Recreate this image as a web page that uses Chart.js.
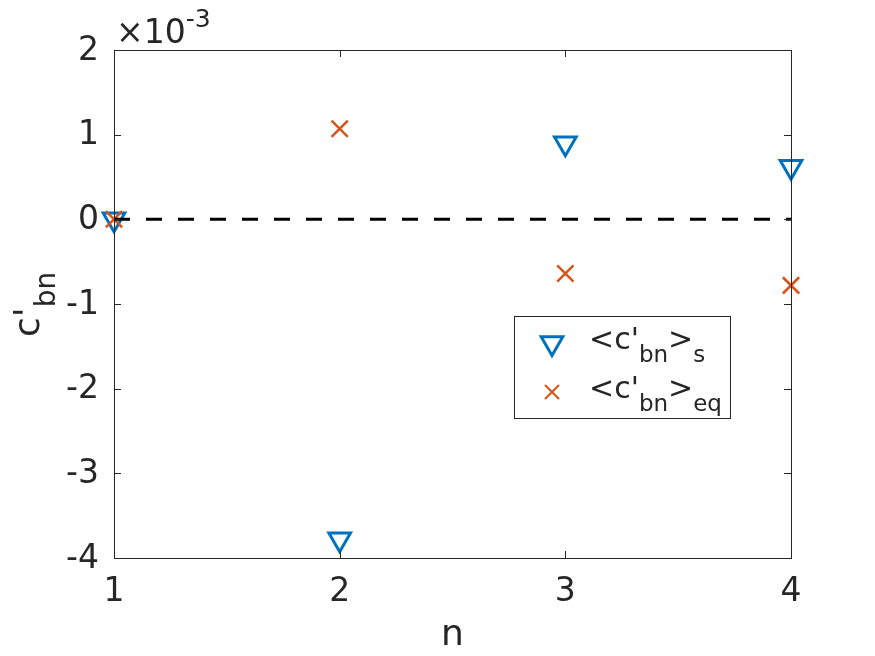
<!DOCTYPE html>
<html>
<head>
<meta charset="utf-8">
<script src="https://cdn.jsdelivr.net/npm/chart.js@4.4.1/dist/chart.umd.min.js"></script>
<style>
  html, body { margin: 0; padding: 0; background: #fff; }
  #wrap { width: 875px; height: 656px; }
</style>
</head>
<body>
<div id="wrap"><canvas id="c" width="875" height="656"></canvas></div>
<script>
// harmonic index n and the two coefficient series (values in units of 1e-3)
const nVals = [1, 2, 3, 4];
const cbnS = [0.0, -3.78, 0.90, 0.62];
const cbnEq = [0.0, 1.07, -0.64, -0.78];
const zeroLineX = [1, 4];

const xTicks = [1, 2, 3, 4];
const yTicks = [-4, -3, -2, -1, 0, 1, 2];
const yTickLabels = ['-4', '-3', '-2', '-1', '0', '1', '2'];

const SCALE = 1e-3;
const FONT = '"DejaVu Sans", sans-serif';
const TXT = '#262626';
const BLUE = '#0072BD';
const ORANGE = '#D95319';

const triStyle = { pointStyle: 'triangle', rotation: 180, radius: 12.5, borderWidth: 3 };
const crossStyle = { pointStyle: 'crossRot', rotation: 0, radius: 11.5, borderWidth: 2.5 };

// draw text made of pieces: {t, size, dy}
function drawRich(ctx, parts, x, y) {
  let cx = x;
  parts.forEach(p => {
    ctx.font = p.size + 'px ' + FONT;
    ctx.fillText(p.t, cx, y + (p.dy || 0));
    cx += ctx.measureText(p.t).width;
  });
}

const frame = {
  id: 'frame',
  afterDraw(chart) {
    const ctx = chart.ctx;
    const xs = chart.scales.x, ys = chart.scales.y;
    const a = chart.chartArea;
    ctx.save();
    ctx.strokeStyle = TXT;
    ctx.lineWidth = 1;
    ctx.strokeRect(a.left + 0.5, a.top + 0.5, a.right - a.left, a.bottom - a.top);

    // inward ticks
    ctx.beginPath();
    xTicks.forEach(v => {
      const px = Math.round(xs.getPixelForValue(v)) + 0.5;
      ctx.moveTo(px, a.bottom); ctx.lineTo(px, a.bottom - 7);
      ctx.moveTo(px, a.top); ctx.lineTo(px, a.top + 7);
    });
    yTicks.forEach(v => {
      const py = Math.round(ys.getPixelForValue(v * SCALE)) + 0.5;
      ctx.moveTo(a.left, py); ctx.lineTo(a.left + 7, py);
      ctx.moveTo(a.right, py); ctx.lineTo(a.right - 7, py);
    });
    ctx.stroke();

    // tick labels
    ctx.fillStyle = TXT;
    ctx.font = '33px ' + FONT;
    ctx.textAlign = 'right';
    ctx.textBaseline = 'middle';
    yTicks.forEach((v, i) => {
      ctx.fillText(yTickLabels[i], a.left - 15, ys.getPixelForValue(v * SCALE) + 1);
    });
    ctx.textAlign = 'center';
    ctx.textBaseline = 'alphabetic';
    xTicks.forEach(v => {
      ctx.fillText(String(v), xs.getPixelForValue(v), a.bottom + 43);
    });

    // exponent
    ctx.textAlign = 'left';
    drawRich(ctx, [{ t: '\u00d710', size: 33 }, { t: '-3', size: 25, dy: -16 }], a.left + 2, 43);

    // x label
    ctx.textAlign = 'center';
    ctx.font = '36px ' + FONT;
    ctx.fillText('n', (a.left + a.right) / 2, 645);

    // y label (rotated)
    ctx.save();
    ctx.translate(39, 337);
    ctx.rotate(-Math.PI / 2);
    ctx.textAlign = 'left';
    drawRich(ctx, [{ t: "c'", size: 36 }, { t: 'bn', size: 28, dy: 16 }], 0, 0);
    ctx.restore();

    // legend
    const lx = 514, ly = 316, lw = 216, lh = 102;
    ctx.fillStyle = '#fff';
    ctx.fillRect(lx, ly, lw, lh);
    ctx.strokeStyle = TXT;
    ctx.lineWidth = 1;
    ctx.strokeRect(lx + 0.5, ly + 0.5, lw, lh);

    ctx.strokeStyle = BLUE;
    ctx.fillStyle = 'rgba(0,0,0,0)';
    ctx.lineWidth = triStyle.borderWidth;
    Chart.helpers.drawPoint(ctx, triStyle, 552, 343);
    ctx.strokeStyle = ORANGE;
    ctx.lineWidth = 2;
    Chart.helpers.drawPoint(ctx, Object.assign({}, crossStyle, { radius: 10, borderWidth: 2 }), 552, 392);

    ctx.fillStyle = TXT;
    ctx.textAlign = 'left';
    drawRich(ctx, [{ t: "<c'", size: 30 }, { t: 'bn', size: 23, dy: 13 }, { t: '>', size: 30 }, { t: 's', size: 23, dy: 13 }], 589, 349);
    drawRich(ctx, [{ t: "<c'", size: 30 }, { t: 'bn', size: 23, dy: 13 }, { t: '>', size: 30 }, { t: 'eq', size: 23, dy: 13 }], 589, 398);
    ctx.restore();
  }
};

new Chart(document.getElementById('c'), {
  type: 'scatter',
  data: {
    datasets: [
      {
        type: 'line',
        label: 'zero',
        data: zeroLineX.map(x => ({ x: x, y: 0 })),
        borderColor: '#000',
        borderWidth: 3,
        borderDash: [16, 16],
        pointRadius: 0,
        order: 0
      },
      {
        label: "<c'bn>s",
        data: nVals.map((n, i) => ({ x: n, y: cbnS[i] * SCALE })),
        pointStyle: triStyle.pointStyle,
        rotation: triStyle.rotation,
        pointRadius: triStyle.radius,
        borderWidth: triStyle.borderWidth,
        borderColor: BLUE,
        backgroundColor: 'rgba(0,0,0,0)',
        clip: false,
        order: 2
      },
      {
        label: "<c'bn>eq",
        data: nVals.map((n, i) => ({ x: n, y: cbnEq[i] * SCALE })),
        pointStyle: crossStyle.pointStyle,
        pointRadius: crossStyle.radius,
        borderWidth: crossStyle.borderWidth,
        borderColor: ORANGE,
        backgroundColor: ORANGE,
        clip: false,
        order: 1
      }
    ]
  },
  options: {
    responsive: false,
    devicePixelRatio: 1,
    animation: false,
    layout: { padding: { left: 114, top: 50, right: 84, bottom: 98 } },
    scales: {
      x: { type: 'linear', min: 1, max: 4, display: false },
      y: { type: 'linear', min: -4 * SCALE, max: 2 * SCALE, display: false }
    },
    plugins: { legend: { display: false }, tooltip: { enabled: false } }
  },
  plugins: [frame]
});
</script>
</body>
</html>
